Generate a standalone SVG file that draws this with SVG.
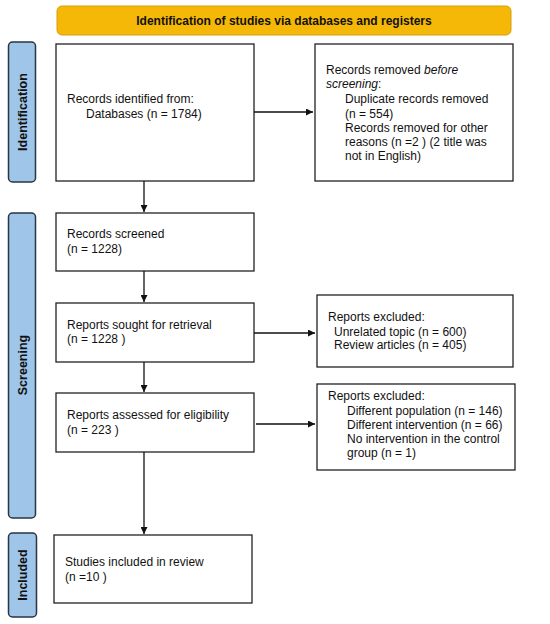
<svg xmlns="http://www.w3.org/2000/svg" width="550" height="624" viewBox="0 0 550 624">
<defs>
<style>
text{font-family:"Liberation Sans",Arial,sans-serif;font-size:12px;fill:#111}
.box{fill:#fff;stroke:#222;stroke-width:1.3}
.side{fill:#9fc5e8;stroke:#263646;stroke-width:1.5}
.sl{font-weight:bold;font-size:12.5px;text-anchor:middle}
.con{stroke:#111;stroke-width:1.3;fill:none;marker-end:url(#ah)}
</style>
<marker id="ah" viewBox="0 0 10 10" refX="10" refY="5" markerWidth="7" markerHeight="7" orient="auto" markerUnits="userSpaceOnUse"><path d="M0,0 L10,5 L0,10 z" fill="#111"/></marker>
</defs>
<rect width="550" height="624" fill="#fff"/>
<g id="header">
<rect x="57" y="6" width="454" height="29" rx="5" fill="#f5b806" stroke="#d69f10" stroke-width="1"/>
<text x="284" y="25" text-anchor="middle" font-weight="bold">Identification of studies via databases and registers</text>
</g>
<g id="side-identification">
<rect class="side" x="8.5" y="42" width="27" height="140" rx="4"/>
<text class="sl" transform="translate(26.5,112) rotate(-90)">Identification</text>
</g>
<g id="side-screening">
<rect class="side" x="8.5" y="213" width="27" height="305" rx="4"/>
<text class="sl" transform="translate(26.5,365) rotate(-90)">Screening</text>
</g>
<g id="side-included">
<rect class="side" x="8.5" y="533" width="28" height="84" rx="4"/>
<text class="sl" transform="translate(27,575) rotate(-90)">Included</text>
</g>
<g id="records-identified">
<rect class="box" x="56" y="44" width="198" height="137"/>
<text x="67" y="103">Records identified from:</text>
<text x="86" y="118">Databases (n = 1784)</text>
</g>
<g id="records-removed">
<rect class="box" x="315" y="44" width="198" height="137"/>
<text x="326" y="74">Records removed <tspan font-style="italic">before</tspan></text>
<text x="326" y="88"><tspan font-style="italic">screening</tspan>:</text>
<text x="345" y="103">Duplicate records removed</text>
<text x="345" y="118">(n = 554)</text>
<text x="345" y="132">Records removed for other</text>
<text x="345" y="146">reasons (n =2 ) (2 title was</text>
<text x="345" y="160">not in English)</text>
</g>
<g id="records-screened">
<rect class="box" x="56" y="213" width="198" height="58"/>
<text x="67" y="238">Records screened</text>
<text x="67" y="253">(n = 1228)</text>
</g>
<g id="reports-sought">
<rect class="box" x="56" y="303" width="198" height="59"/>
<text x="67" y="329">Reports sought for retrieval</text>
<text x="67" y="343">(n = 1228 )</text>
</g>
<g id="reports-excluded-1">
<rect class="box" x="317" y="295" width="196" height="72"/>
<text x="328" y="321">Reports excluded:</text>
<text x="334" y="336">Unrelated topic (n = 600)</text>
<text x="334" y="349">Review articles (n = 405)</text>
</g>
<g id="reports-assessed">
<rect class="box" x="56" y="393" width="198" height="59"/>
<text x="67" y="419">Reports assessed for eligibility</text>
<text x="67" y="434">(n = 223 )</text>
</g>
<g id="reports-excluded-2">
<rect class="box" x="317" y="384" width="198" height="86"/>
<text x="328" y="400">Reports excluded:</text>
<text x="347" y="415">Different population (n = 146)</text>
<text x="347" y="429">Different intervention (n = 66)</text>
<text x="347" y="443">No intervention in the control</text>
<text x="347" y="457">group (n = 1)</text>
</g>
<g id="studies-included">
<rect class="box" x="54" y="535" width="198" height="68"/>
<text x="65" y="566">Studies included in review</text>
<text x="65" y="581">(n =10 )</text>
</g>
<g id="connectors">
<line class="con" x1="254" y1="112" x2="313" y2="112"/>
<line class="con" x1="144" y1="181" x2="144" y2="212"/>
<line class="con" x1="144" y1="271" x2="144" y2="302"/>
<line class="con" x1="254" y1="333" x2="315" y2="333"/>
<line class="con" x1="144" y1="362" x2="144" y2="392"/>
<line class="con" x1="256" y1="424" x2="315" y2="424"/>
<line class="con" x1="144" y1="452" x2="144" y2="534"/>
</g>
</svg>
